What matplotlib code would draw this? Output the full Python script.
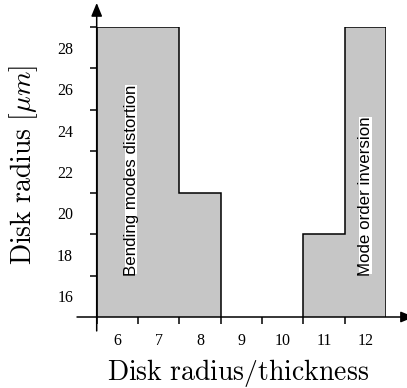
import matplotlib.pyplot as plt
import numpy as np

plt.rcParams['mathtext.fontset'] = 'cm'

# disk radius/thickness ratio and the upper disk radius of each shaded region
ratio = [6, 7, 8, 9, 10, 11, 12]
radius_top = [29, 29, 21, np.nan, np.nan, 19, 29]
radius_min = 15
radius_max = 29
ytick_labels = [16, 18, 20, 22, 24, 26, 28]
region_labels = ["Bending modes distortion", "Mode order inversion"]
region_label_x = [6.33, 12.0]

fig = plt.figure(figsize=(4.07, 3.88), dpi=100)
ax = fig.add_axes([96.7 / 407, 71 / 388, 289.5 / 407, 290 / 388])

r = np.array(ratio, dtype=float)
h = np.array(radius_top, dtype=float)
i = 0
while i < len(r):
    if np.isnan(h[i]):
        i += 1
        continue
    j = i
    while j + 1 < len(r) and not np.isnan(h[j + 1]):
        j += 1
    edges = np.append(r[i:j + 1] - 0.5, r[j] + 0.5)
    ax.stairs(h[i:j + 1], edges, baseline=radius_min, fill=True,
              facecolor='#c6c6c6', edgecolor='k', linewidth=1.1)
    i = j + 1

ax.set_xlim(r[0] - 0.5, r[-1] + 0.5)
ax.set_ylim(radius_min, radius_max)
for s in ax.spines.values():
    s.set_visible(False)

# ticks sit between the labels
ax.set_xticks(np.arange(r[0] - 0.5, r[-1], 1.0), labels=[])
ax.set_xticks(ratio, labels=[str(v) for v in ratio], minor=True)
ax.set_yticks(np.arange(radius_min + 2, radius_max + 1, 2), labels=[])
ax.set_yticks(ytick_labels, labels=[str(v) for v in ytick_labels], minor=True)
ax.tick_params(which='major', length=5, width=1.1, direction='out')
ax.tick_params(axis='x', which='minor', length=0, pad=11.5)
ax.tick_params(axis='y', which='minor', length=0, pad=17)
for lab in ax.get_xticklabels(minor=True) + ax.get_yticklabels(minor=True):
    lab.set_fontfamily('Liberation Serif')
    lab.set_fontsize(11.5)

arrow = dict(arrowstyle='-|>,head_length=0.8,head_width=0.33', color='k',
             lw=1.1, shrinkA=0, shrinkB=0, mutation_scale=10)
ax.annotate('', xy=(1.096, 0), xytext=(-0.068, 0), xycoords='axes fraction',
            arrowprops=arrow, annotation_clip=False)
ax.annotate('', xy=(0, 1.083), xytext=(0, -0.048), xycoords='axes fraction',
            arrowprops=arrow, annotation_clip=False)

for x, t in zip(region_label_x, region_labels):
    ax.text(x, radius_min + 2, t, rotation=90, ha='center', va='bottom',
            fontsize=12.2, family='Liberation Sans',
            bbox=dict(facecolor='white', edgecolor='none', pad=-0.8))

fig.text(238.5 / 407, 8 / 388, r'$\mathrm{Disk\ radius/thickness}$',
         ha='center', va='baseline', fontsize=20)
fig.text(24 / 407, 1 - 165 / 388, r'$\mathrm{Disk\ radius}\ [\mu m]$',
         ha='center', va='center', rotation=90, fontsize=20)

fig.savefig('out.png', dpi=100)
